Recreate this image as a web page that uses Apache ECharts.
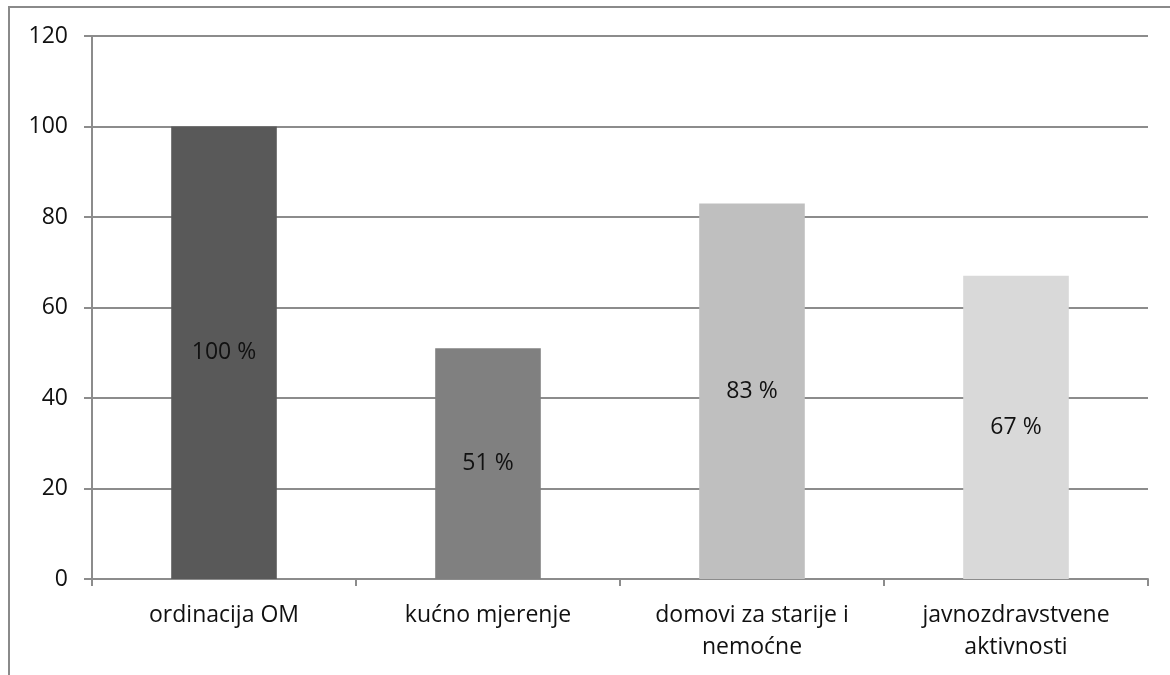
<!DOCTYPE html>
<html>
<head>
<meta charset="utf-8">
<script src="https://cdn.jsdelivr.net/npm/echarts@6/dist/echarts.min.js"></script>
<style>
  html, body { margin: 0; padding: 0; background: #fff; }
  #chart { width: 1170px; height: 675px; }
</style>
</head>
<body>
<div id="chart"></div>
<script>
var categories = ['ordinacija OM', 'kućno mjerenje', 'domovi za starije i\nnemoćne', 'javnozdravstvene\naktivnosti'];
var values = [100, 51, 83, 67];
var barColors = ['#595959', '#808080', '#bfbfbf', '#d9d9d9'];
var yTicks = [0, 20, 40, 60, 80, 100, 120];

var chart = echarts.init(document.getElementById('chart'));
var fontFam = '"Open Sans", sans-serif';

var option = {
  animation: false,
  graphic: [{
    type: 'rect',
    shape: { x: 9, y: 7, width: 1200, height: 700 },
    style: { fill: 'none', stroke: '#8a8a8a', lineWidth: 2 },
    silent: true
  }],
  grid: { left: 92, right: 22, top: 36, bottom: 96 },
  xAxis: {
    type: 'category',
    data: categories,
    axisLine: { lineStyle: { color: '#8c8c8c', width: 2 } },
    axisTick: { show: true, length: 7, alignWithLabel: false, lineStyle: { color: '#8c8c8c', width: 2 } },
    axisLabel: { color: '#111', fontSize: 23, fontFamily: fontFam, margin: 20, lineHeight: 32, interval: 0 }
  },
  yAxis: {
    type: 'value',
    min: yTicks[0],
    max: yTicks[yTicks.length - 1],
    interval: 20,
    axisLine: { show: true, lineStyle: { color: '#8c8c8c', width: 2 } },
    axisTick: { show: true, length: 8, lineStyle: { color: '#8c8c8c', width: 2 } },
    axisLabel: { color: '#111', fontSize: 23, fontFamily: fontFam, margin: 24 },
    splitLine: { lineStyle: { color: '#8c8c8c', width: 2 } }
  },
  series: [{
    type: 'bar',
    barWidth: '40%',
    data: values.map(function (v, i) {
      return { value: v, itemStyle: { color: barColors[i] } };
    }),
    label: {
      show: true,
      position: 'inside',
      formatter: '{c} %',
      color: '#111',
      fontSize: 23,
      fontFamily: fontFam
    }
  }]
};
chart.setOption(option);
</script>
</body>
</html>
